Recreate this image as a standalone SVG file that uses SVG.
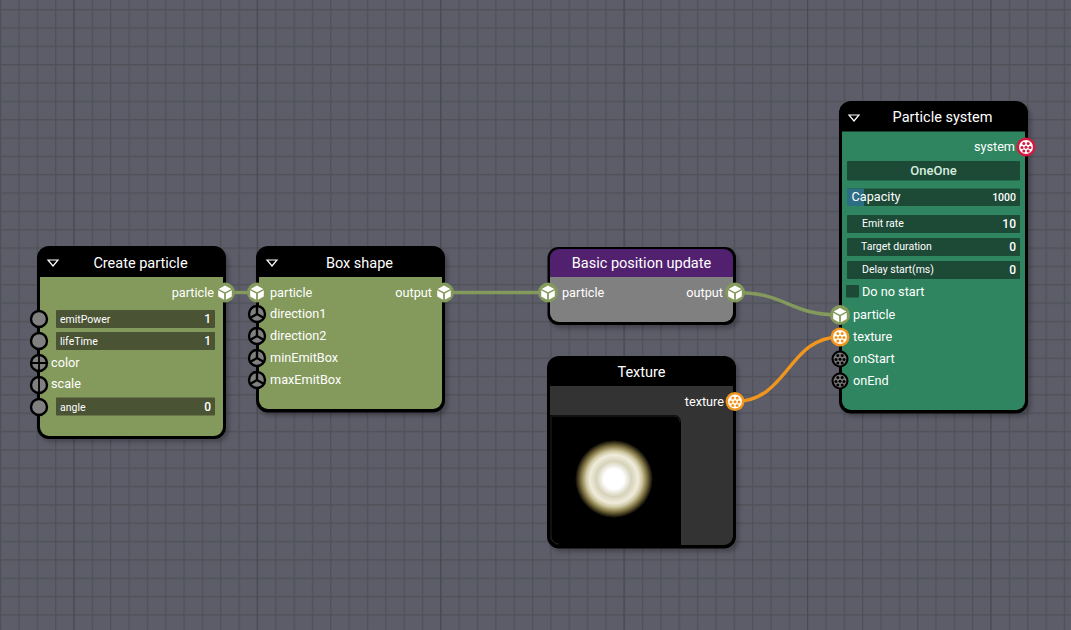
<svg xmlns="http://www.w3.org/2000/svg" width="1071" height="630" viewBox="0 0 1071 630">
<style>
text{font-family:Roboto,"Liberation Sans",sans-serif;fill:#fff;font-size:12.7px}
.t{font-size:14.5px;text-anchor:middle}
.r{text-anchor:end}
.s{font-size:10.5px}
.v{font-size:12px;text-anchor:end;font-weight:500}
.outer{fill:#000}
.shadow{fill:#000;opacity:.25;filter:url(#blur)}
.green{fill:#84995c}
.teal{fill:#2e8560}
.sl{fill:#4a5333}
.tsl{fill:#1c4a36}
.tri{fill:none;stroke:#fff;stroke-width:1.2}
.wire{fill:none;stroke-width:3.4}
</style>
<defs>
<filter id="blur" x="-10%" y="-10%" width="120%" height="120%"><feGaussianBlur stdDeviation="2"/></filter>
<filter id="soft" x="-10%" y="-10%" width="120%" height="120%"><feGaussianBlur stdDeviation=".6"/></filter>
<pattern id="grid" width="18.34" height="18.34" patternUnits="userSpaceOnUse" x="0" y="9">
<rect width="18.34" height="18.34" fill="#5c5d69"/>
<rect x="0" y="0" width="18.34" height="1.4" fill="#505259"/>
<rect x="0" y="0" width="1.4" height="18.34" fill="#505259"/>
</pattern>
<radialGradient id="glow">
<stop offset="0" stop-color="#fff"/>
<stop offset=".26" stop-color="#fff"/>
<stop offset=".45" stop-color="#d6d2ba"/>
<stop offset=".62" stop-color="#efecdc"/>
<stop offset=".72" stop-color="#cfc8a2"/>
<stop offset=".85" stop-color="#7c703f"/>
<stop offset="1" stop-color="#000"/>
</radialGradient>
<g id="cube">
<path d="M0-7 6.3-3.6 0-.2-6.3-3.6Z" fill="#fff"/>
<path d="M-6.8-2.2 -.9 1V7.2L-6.8 4Z" fill="#fff"/>
<path d="M6.8-2.2 .9 1V7.2L6.8 4Z" fill="#fff"/>
</g>
<g id="dots">
<circle cx="-2.2" cy="-3.6" r="1.5"/><circle cx="2.2" cy="-3.6" r="1.5"/><circle cx="-4" cy="0.4" r="1.5"/><circle cx="4" cy="0.4" r="1.5"/><circle cx="0" cy="0.2" r="1.5"/><circle cx="-2.2" cy="4" r="1.5"/><circle cx="2.2" cy="4" r="1.5"/>
</g>
<g id="pBlank"><circle r="8" fill="#808080" stroke="#000" stroke-width="2.4"/></g>
<g id="pVec3"><circle r="8" fill="#808080" stroke="#000" stroke-width="2.4"/><path d="M0 0V-8M0 0 7 4M0 0-7 4" stroke="#000" stroke-width="2.4" fill="none"/></g>
<g id="pColor"><circle r="8" fill="#808080" stroke="#000" stroke-width="2.4"/><path d="M-8 0H8M0-8V8" stroke="#000" stroke-width="1.8"/></g>
<g id="pScale"><circle r="8" fill="#808080" stroke="#000" stroke-width="2.4"/><path d="M0-8V8" stroke="#000" stroke-width="1.8"/></g>
<g id="pDark"><circle r="8.5" fill="#000"/><circle r="6.4" fill="#777"/><use href="#dots" fill="#000"/></g>
<g id="pCube"><circle r="10" fill="#84995c"/><use href="#cube"/></g>
<g id="pTex"><circle r="9.5" fill="#f0961e"/><circle r="7" fill="#fff"/><use href="#dots" fill="#f0961e"/></g>
<g id="pSys"><circle r="9.5" fill="#d6173f"/><circle r="7" fill="#fff"/><use href="#dots" fill="#d6173f"/></g>
</defs>

<rect id="background" width="1071" height="630" fill="url(#grid)"/>
<path d="M73.9 0V630M257.300 0V630M440.700 0V630M624.100 0V630M807.500 0V630M990.900 0V630" stroke="#494b51" stroke-width="1"/>

<g id="connectors">
<path class="wire" stroke="#84995c" d="M225 292.500H256"/>
<path class="wire" stroke="#84995c" d="M444 292.500H548"/>
<path class="wire" stroke="#84995c" d="M735 292.500C788 292.500 788 315 840 315"/>
<path class="wire" stroke="#f0961e" d="M735 401.500C788 401.500 788 337 840 337"/>
</g>

<g id="node-create-particle">
<rect class="shadow" x="40" y="250" width="189" height="192" rx="12"/>
<rect class="outer" x="37" y="246" width="189" height="193" rx="12"/>
<path class="green" d="M40 277H223V427a9 9 0 0 1-9 9H49a9 9 0 0 1-9-9Z"/>
<path class="tri" d="M48 260H58L53 266Z"/>
<text class="t" x="140.500" y="268">Create particle</text>
<text class="r" x="214" y="297">particle</text>
<rect class="sl" x="56" y="310" width="159" height="18" rx="1"/>
<rect class="sl" x="56" y="332" width="159" height="18" rx="1"/>
<rect class="sl" x="56" y="397.500" width="159" height="18" rx="1"/>
<text class="s" x="60" y="323">emitPower</text>
<text class="v" x="211" y="323">1</text>
<text class="s" x="60" y="345">lifeTime</text>
<text class="v" x="211" y="345">1</text>
<text class="s" x="60" y="410.500">angle</text>
<text class="v" x="211" y="411">0</text>
<text x="51" y="367">color</text>
<text x="51" y="388">scale</text>
<use href="#pBlank" x="39" y="319"/>
<use href="#pBlank" x="39" y="341"/>
<use href="#pColor" x="39" y="363"/>
<use href="#pScale" x="39" y="385"/>
<use href="#pBlank" x="39" y="407"/>
<use href="#pCube" x="225" y="292.500"/>
</g>

<g id="node-box-shape">
<rect class="shadow" x="259" y="250" width="189" height="166" rx="12"/>
<rect class="outer" x="256" y="246" width="189" height="166.500" rx="12"/>
<path class="green" d="M259 277H442V400a9 9 0 0 1-9 9H268a9 9 0 0 1-9-9Z"/>
<path class="tri" d="M267 260H277L272 266Z"/>
<text class="t" x="359.500" y="268">Box shape</text>
<text x="270" y="297">particle</text>
<text x="270" y="318">direction1</text>
<text x="270" y="340">direction2</text>
<text x="270" y="362">minEmitBox</text>
<text x="270" y="384">maxEmitBox</text>
<text class="r" x="432" y="297">output</text>
<use href="#pCube" x="257" y="292.500"/>
<use href="#pVec3" x="257" y="314"/>
<use href="#pVec3" x="257" y="336"/>
<use href="#pVec3" x="257" y="358"/>
<use href="#pVec3" x="257" y="380"/>
<use href="#pCube" x="444" y="292.500"/>
</g>

<g id="node-basic-position-update">
<rect class="shadow" x="550" y="251" width="189" height="78" rx="12"/>
<rect class="outer" x="547.500" y="247" width="188.500" height="78" rx="11"/>
<path fill="#51216f" d="M550 277V258a9 9 0 0 1 9-9H724a9 9 0 0 1 9 9V277Z"/>
<path fill="#808080" d="M550 277H733V313a9 9 0 0 1-9 9H559a9 9 0 0 1-9-9Z"/>
<text class="t" x="641.500" y="268">Basic position update</text>
<text x="562" y="297">particle</text>
<text class="r" x="723" y="297">output</text>
<use href="#pCube" x="548" y="292.500"/>
<use href="#pCube" x="735" y="292.500"/>
</g>

<g id="node-texture">
<rect class="shadow" x="550" y="360" width="189" height="192" rx="12"/>
<rect class="outer" x="547" y="356" width="189" height="192.500" rx="12"/>
<path fill="#333" d="M550 386H733V536a9 9 0 0 1-9 9H559a9 9 0 0 1-9-9Z"/>
<path fill="#000" d="M550 415H674a7 7 0 0 1 7 7V545H559a9 9 0 0 1-9-9Z"/>
<path fill="none" stroke="#222" d="M551 416H674a6 6 0 0 1 6 6M551 416V536a8 8 0 0 0 8 8"/>
<circle cx="614" cy="479" r="39" fill="url(#glow)" filter="url(#soft)"/>
<text class="t" x="641.500" y="377">Texture</text>
<text class="r" x="724" y="406">texture</text>
<use href="#pTex" x="735" y="401.500"/>
</g>

<g id="node-particle-system">
<rect class="shadow" x="842" y="105" width="189" height="312" rx="12"/>
<rect class="outer" x="839" y="101" width="189" height="312.500" rx="12"/>
<path class="teal" d="M842 131.500H1025V401a9 9 0 0 1-9 9H851a9 9 0 0 1-9-9Z"/>
<path class="tri" d="M849 115H859L854 121Z"/>
<text class="t" x="942.500" y="122">Particle system</text>
<text class="r" x="1015" y="151">system</text>
<rect class="tsl" x="847" y="161" width="173" height="19.500" rx="1"/>
<text class="t" x="933.500" y="175" style="font-size:13px;fill:#d6ecdf;font-weight:500">OneOne</text>
<rect class="tsl" x="847" y="188.500" width="173" height="17.500" rx="1"/>
<rect x="847" y="188.500" width="17" height="17.500" fill="#2e6e84"/>
<text x="851.500" y="201">Capacity</text>
<text class="s r" x="1016" y="201" style="font-weight:500">1000</text>
<rect class="tsl" x="847" y="215" width="173" height="18" rx="1"/>
<text class="s" x="862" y="227">Emit rate</text>
<text class="v" x="1016" y="228">10</text>
<rect class="tsl" x="847" y="238" width="173" height="18" rx="1"/>
<text class="s" x="861" y="250">Target duration</text>
<text class="v" x="1016" y="251">0</text>
<rect class="tsl" x="847" y="261" width="173" height="18" rx="1"/>
<text class="s" x="862" y="273">Delay start(ms)</text>
<text class="v" x="1016" y="274">0</text>
<rect class="tsl" x="846" y="285" width="13" height="12.500" rx="1"/>
<text x="862" y="296">Do no start</text>
<text x="853" y="319">particle</text>
<text x="853" y="341">texture</text>
<text x="853" y="363">onStart</text>
<text x="853" y="385">onEnd</text>
<use href="#pSys" x="1026" y="147"/>
<use href="#pCube" x="840" y="315"/>
<use href="#pTex" x="840" y="337"/>
<use href="#pDark" x="840" y="359"/>
<use href="#pDark" x="840" y="381"/>
</g>
</svg>
